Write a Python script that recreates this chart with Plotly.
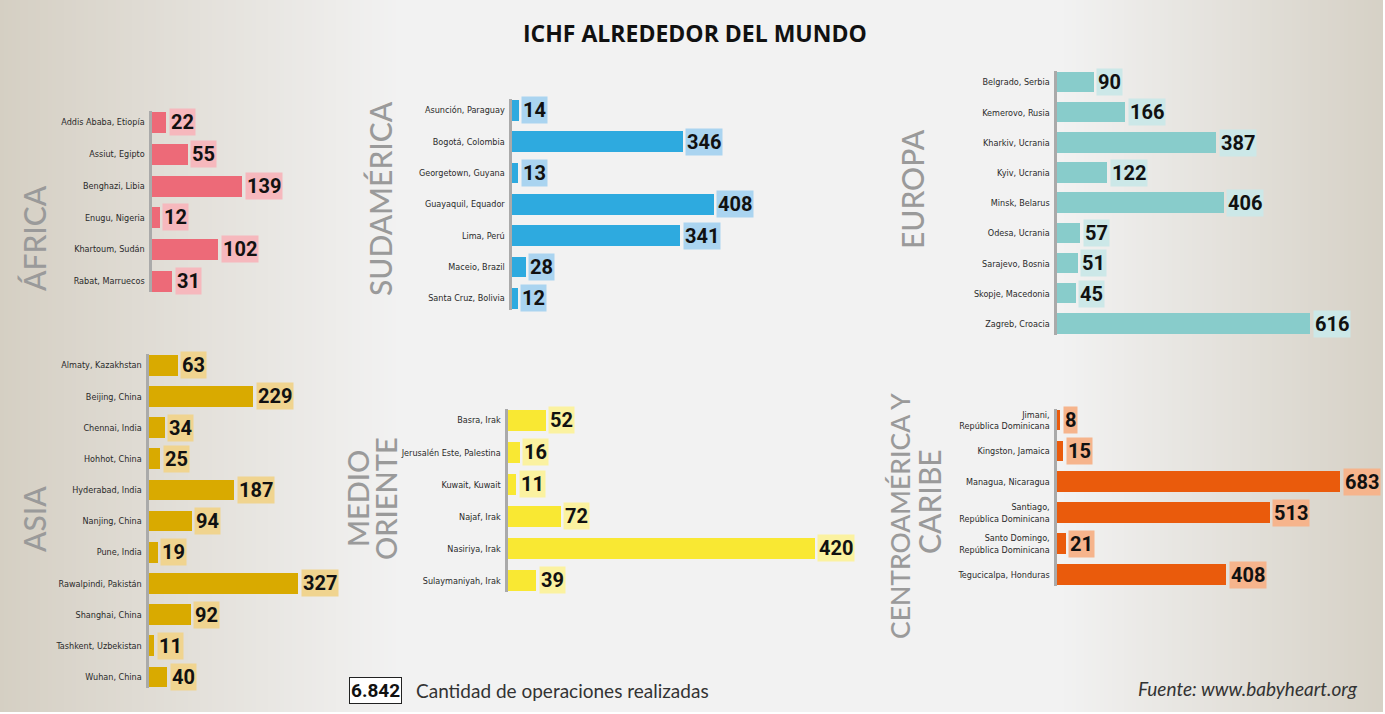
import plotly.graph_objects as go

W, H = 1385, 714

# ---------------- data ----------------
africa_cities = ["Addis Ababa, Etiopía", "Assiut, Egipto", "Benghazi, Libia", "Enugu, Nigeria",
                 "Khartoum, Sudán", "Rabat, Marruecos"]
africa_values = [22, 55, 139, 12, 102, 31]

sudamerica_cities = ["Asunción, Paraguay", "Bogotá, Colombia", "Georgetown, Guyana", "Guayaquil, Equador",
                     "Lima, Perú", "Maceio, Brazil", "Santa Cruz, Bolivia"]
sudamerica_values = [14, 346, 13, 408, 341, 28, 12]

europa_cities = ["Belgrado, Serbia", "Kemerovo, Rusia", "Kharkiv, Ucrania", "Kyiv, Ucrania", "Minsk, Belarus",
                 "Odesa, Ucrania", "Sarajevo, Bosnia", "Skopje, Macedonia", "Zagreb, Croacia"]
europa_values = [90, 166, 387, 122, 406, 57, 51, 45, 616]

asia_cities = ["Almaty, Kazakhstan", "Beijing, China", "Chennai, India", "Hohhot, China", "Hyderabad, India",
               "Nanjing, China", "Pune, India", "Rawalpindi, Pakistán", "Shanghai, China",
               "Tashkent, Uzbekistan", "Wuhan, China"]
asia_values = [63, 229, 34, 25, 187, 94, 19, 327, 92, 11, 40]

medio_cities = ["Basra, Irak", "Jerusalén Este, Palestina", "Kuwait, Kuwait", "Najaf, Irak",
                "Nasiriya, Irak", "Sulaymaniyah, Irak"]
medio_values = [52, 16, 11, 72, 420, 39]

centro_cities = ["Jimani,<br>República Dominicana", "Kingston, Jamaica", "Managua, Nicaragua",
                 "Santiago,<br>República Dominicana", "Santo Domingo,<br>República Dominicana",
                 "Tegucicalpa, Honduras"]
centro_values = [8, 15, 683, 513, 21, 408]

region_titles = [["ÁFRICA"], ["SUDAMÉRICA"], ["EUROPA"], ["ASIA"], ["MEDIO", "ORIENTE"],
                 ["CENTROAMÉRICA Y", "CARIBE"]]

title_text = "ICHF ALREDEDOR DEL MUNDO"
legend_text = "Cantidad de operaciones realizadas"
source_text = "Fuente: www.babyheart.org"

# ---------------- styling ----------------
LABEL_FONT = "DejaVu Sans Condensed, Liberation Sans Narrow, sans-serif"
NUM_FONT = "Roboto, Liberation Sans, sans-serif"
HEAD_FONT = "Lato, Open Sans, sans-serif"

panels = [
    dict(c=africa_cities, v=africa_values, col="#ed6a78", bg="#f6b8bd",
         x0=151.5, s=0.651, top=110.5, bot=292.4, bw=0.66, tx=[34], ty=[238], ts=[30]),
    dict(c=sudamerica_cities, v=sudamerica_values, col="#2eaadf", bg="#aad4f0",
         x0=511.5, s=0.494, top=99.0, bot=309.6, bw=0.66, tx=[380], ty=[199], ts=[30]),
    dict(c=europa_cities, v=europa_values, col="#88cccb", bg="#cce8e8",
         x0=1056.5, s=0.411, top=71.4, bot=334.6, bw=0.68, tx=[912], ty=[189], ts=[30]),
    dict(c=asia_cities, v=asia_values, col="#d9aa00", bg="#f0d48f",
         x0=148.5, s=0.456, top=354.1, bot=688.2, bw=0.66, tx=[34], ty=[519], ts=[30]),
    dict(c=medio_cities, v=medio_values, col="#f9e833", bg="#fbf2a0",
         x0=507.5, s=0.73, top=408.8, bot=592.0, bw=0.65, tx=[358, 386], ty=[499, 499], ts=[29, 29]),
    dict(c=centro_cities, v=centro_values, col="#ea5b0c", bg="#f6b48c",
         x0=1056.5, s=0.415, top=409.2, bot=585.6, bw=0.67, tx=[900, 929], ty=[516, 502], ts=[26.5, 30]),
]

fig = go.Figure()
annotations = []
shapes = []
layout = {}


def mix(t, a, b):
    return "rgb(%d,%d,%d)" % tuple(round(a[i] + (b[i] - a[i]) * t) for i in range(3))


# background gradient
LIGHT = (242, 242, 242)
DARK_L = (213, 207, 195)
DARK_R = (214, 209, 198)
shapes.append(dict(type="rect", xref="paper", yref="paper", x0=0, x1=1383 / W, y0=2 / H, y1=1,
                   fillcolor="rgb(242,242,242)", line=dict(width=0), layer="below"))
step = 4
for px in range(0, 1383, step):
    xc = px + step / 2
    if xc < 400:
        t = (400 - xc) / 400
        col = mix(t, LIGHT, DARK_L)
    elif xc > 1060:
        t = (xc - 1060) / 323
        col = mix(t, LIGHT, DARK_R)
    else:
        continue
    shapes.append(dict(type="rect", xref="paper", yref="paper", x0=px / W, x1=min(px + step, 1383) / W,
                       y0=2 / H, y1=1, fillcolor=col, line=dict(width=0), layer="below"))

for i, p in enumerate(panels, start=1):
    xa = "x" if i == 1 else "x%d" % i
    ya = "y" if i == 1 else "y%d" % i
    n = len(p["c"])
    vmax = max(p["v"])
    x_end = min(p["x0"] + vmax * 1.2 * p["s"], 1384.0)
    R = (x_end - p["x0"]) / p["s"]
    fig.add_trace(go.Bar(x=p["v"], y=p["c"], orientation="h", width=p["bw"],
                         marker=dict(color=p["col"], line=dict(width=0)),
                         xaxis=xa, yaxis=ya, hoverinfo="skip"))
    layout["xaxis" if i == 1 else "xaxis%d" % i] = dict(
        domain=[p["x0"] / W, x_end / W], range=[0, R], visible=False, fixedrange=True,
        anchor=ya)
    layout["yaxis" if i == 1 else "yaxis%d" % i] = dict(
        domain=[1 - p["bot"] / H, 1 - p["top"] / H], type="category",
        range=[n - 1 + 0.36, -0.36], showline=True, linecolor="#aaaaaa", linewidth=3,
        showgrid=False, zeroline=False, ticks="", ticklabelstandoff=2,
        tickfont=dict(family=LABEL_FONT, size=9, color="#2a2a2a"), anchor=xa, fixedrange=True)
    for city, val in zip(p["c"], p["v"]):
        annotations.append(dict(xref=xa, yref=ya, x=val, y=city, text=str(val), showarrow=False,
                                xanchor="left", yanchor="middle", xshift=3, bgcolor=p["bg"],
                                borderpad=1,
                                font=dict(family=NUM_FONT, size=20, color="#111111", weight="bold")))
    for line, tx, ty, ts in zip(region_titles[i - 1], p["tx"], p["ty"], p["ts"]):
        annotations.append(dict(xref="paper", yref="paper", x=tx / W, y=1 - ty / H, text=line,
                                textangle=-90, showarrow=False, xanchor="center", yanchor="middle",
                                font=dict(family=HEAD_FONT, size=ts, color="#9a9a9a", weight=500)))

total = sum(africa_values) + sum(sudamerica_values) + sum(europa_values) + sum(asia_values) \
    + sum(medio_values) + sum(centro_values)
total_str = "{:,}".format(total).replace(",", ".")

annotations.append(dict(xref="paper", yref="paper", x=694.5 / W, y=1 - 33 / H, text=title_text,
                        showarrow=False, xanchor="center", yanchor="middle",
                        font=dict(family="Open Sans, sans-serif", size=23, color="#111111", weight="bold")))
annotations.append(dict(xref="paper", yref="paper", x=375.5 / W, y=1 - 690.5 / H, text=total_str,
                        showarrow=False, xanchor="center", yanchor="middle", bgcolor="#ffffff",
                        bordercolor="#222222", borderwidth=1, borderpad=1,
                        font=dict(family=NUM_FONT, size=19, color="#111111", weight="bold")))
annotations.append(dict(xref="paper", yref="paper", x=414 / W, y=1 - 690 / H, text=legend_text,
                        showarrow=False, xanchor="left", yanchor="middle",
                        font=dict(family=HEAD_FONT, size=19, color="#333333")))
annotations.append(dict(xref="paper", yref="paper", x=1360 / W, y=1 - 688 / H,
                        text="<i>" + source_text + "</i>",
                        showarrow=False, xanchor="right", yanchor="middle",
                        font=dict(family=HEAD_FONT, size=19, color="#333333")))

fig.update_layout(width=W, height=H, margin=dict(l=0, r=0, t=0, b=0), paper_bgcolor="#ffffff",
                  plot_bgcolor="rgba(0,0,0,0)", showlegend=False, bargap=0,
                  annotations=annotations, shapes=shapes, **layout)

fig.write_html("out.html", config={"displayModeBar": False},
               post_script="document.body.style.margin='0';document.body.style.overflow='hidden';")
